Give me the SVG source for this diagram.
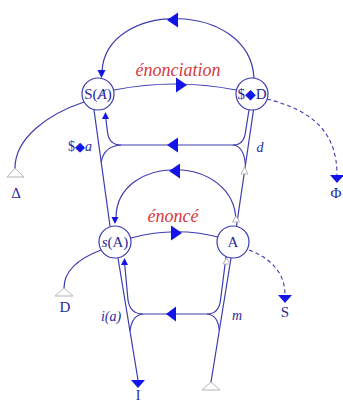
<svg xmlns="http://www.w3.org/2000/svg" width="343" height="403" viewBox="0 0 343 403">
<style>
.ln{fill:none;stroke:#3b3bb0;stroke-width:1.2}
.dash{fill:none;stroke:#3b3bb0;stroke-width:1.1;stroke-dasharray:4 3}
.ah{fill:#1414e6}
.ho{fill:#ffffff;stroke:#b4b4b4;stroke-width:1}
.nd{fill:#ffffff;stroke:#3b3bb0;stroke-width:1.2}
.t{font-family:"Liberation Serif","DejaVu Serif",serif;fill:#2a2a9c}
.red{font-family:"Liberation Serif","DejaVu Serif",serif;font-style:italic;fill:#d83a3c;font-size:18px}
</style>
<rect width="343" height="403" fill="#ffffff"/>
<g id="connectors">
  <path class="ln" d="M254,78 C250,0 105,0 102,72"/>
  <polygon class="ah" points="167,20 178,12.5 178,27.5"/>
  <polygon class="ah" points="97.5,70 105.5,70 101.5,78"/>
  <path class="ln" d="M114,90 Q175,78 236,90"/>
  <polygon class="ah" points="187,85 176,77.5 176,92.5"/>
  <path class="ln" d="M84,102 C48,114 15,138 15,168"/>
  <polygon class="ho" points="15,168 7,177 24,177"/>
  <path class="dash" d="M267,99 C310,110 337,130 337,175"/>
  <polygon class="ah" points="330,175 344,175 337,183"/>
  <path class="ln" d="M94,110 L110,226"/>
  <path class="ln" d="M105.5,116 L107.5,132 Q109,145 121,145 L233,145"/>
  <path class="ln" d="M121,145 Q104,146 101.2,162"/>
  <polygon class="ah" points="105.5,112 102,119 109,119"/>
  <polygon class="ah" points="167,145 178,137.5 178,152.5"/>
  <path class="ln" d="M253.5,110 L236.5,226"/>
  <path class="ln" d="M249,110 L245.5,132 Q244,145 233,145"/>
  <path class="ln" d="M233,145 Q244,146 245.4,165"/>
  <polygon class="ho" points="244.5,167 241,174 248,174"/>
  <path class="ln" d="M116,218 C116,153 236,153 236,222"/>
  <polygon class="ah" points="169,171 180,163.5 180,178.5"/>
  <polygon class="ah" points="111.5,217 118.5,217 115,224"/>
  <polygon class="ho" points="236,216 232.5,222 239.5,222"/>
  <path class="ln" d="M131,238 Q175,226 218,237"/>
  <polygon class="ah" points="182,233 171,225.5 171,240.5"/>
  <path class="ln" d="M101,250 C80,258 64,270 64,288"/>
  <polygon class="ho" points="64,288 55,296 73,296"/>
  <path class="dash" d="M249,250 C270,258 285,272 285,295"/>
  <polygon class="ah" points="278,295 292,295 285,303"/>
  <path class="ln" d="M118,258 L138,380"/>
  <polygon class="ah" points="131,380 145,380 138,388"/>
  <path class="ln" d="M124.5,262 L128,300 Q130,314 143,314 L207,314"/>
  <path class="ln" d="M143,314 Q132,315 130,331"/>
  <polygon class="ah" points="124.5,258 121,265 128,265"/>
  <polygon class="ah" points="166,314 176,306.5 176,321.5"/>
  <path class="ln" d="M231,258 L211,382"/>
  <path class="ln" d="M226,257 L220.5,300 Q219,314 207,314"/>
  <path class="ln" d="M207,314 Q218,315 219.2,330"/>
  <polygon class="ho" points="211,382 202,390 220,390"/>
  <polygon class="ho" points="226.5,258 223,264 230,264"/>
</g>
<g id="node-SA">
  <circle class="nd" cx="98" cy="94" r="16"/>
  <text class="t" x="98" y="99" font-size="15" text-anchor="middle">S(<tspan font-style="italic">Ⱥ</tspan>)</text>
</g>
<g id="node-SD">
  <circle class="nd" cx="252" cy="94" r="16"/>
  <text class="t" x="252" y="99" font-size="15" text-anchor="middle">$<tspan font-size="14" fill="#1414e6">◆</tspan>D</text>
</g>
<g id="node-sA">
  <circle class="nd" cx="115" cy="242" r="16"/>
  <text class="t" x="115" y="247" font-size="15" text-anchor="middle"><tspan font-style="italic">s</tspan>(A)</text>
</g>
<g id="node-A">
  <circle class="nd" cx="233" cy="242" r="16"/>
  <text class="t" x="233" y="247" font-size="15" text-anchor="middle">A</text>
</g>
<g id="labels">
  <text class="red" x="178" y="76" text-anchor="middle">énonciation</text>
  <text class="red" x="173" y="222" text-anchor="middle">énoncé</text>
  <text class="t" x="80" y="151" font-size="14" text-anchor="middle">$<tspan font-size="13" fill="#1414e6">◆</tspan><tspan font-style="italic">a</tspan></text>
  <text class="t" x="260" y="152" font-size="14" font-style="italic" text-anchor="middle">d</text>
  <text class="t" x="111" y="321" font-size="14" font-style="italic" text-anchor="middle">i(a)</text>
  <text class="t" x="237" y="320" font-size="14" font-style="italic" text-anchor="middle">m</text>
  <text class="t" x="16" y="198" font-size="15" text-anchor="middle">Δ</text>
  <text class="t" x="336" y="198" font-size="15" text-anchor="middle">Φ</text>
  <text class="t" x="65" y="312" font-size="15" text-anchor="middle">D</text>
  <text class="t" x="285" y="317" font-size="15" text-anchor="middle">S</text>
  <text class="t" x="138" y="400" font-size="14" text-anchor="middle">I</text>
</g>
</svg>
